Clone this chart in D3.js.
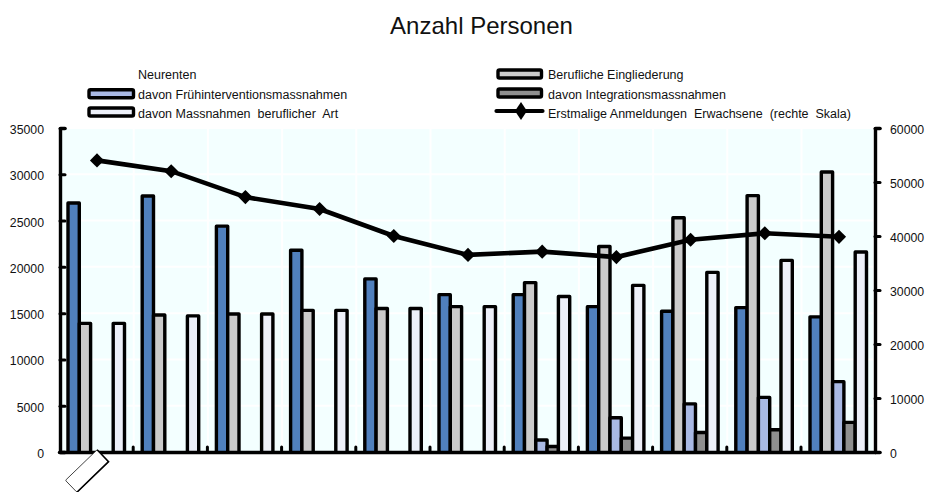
<!DOCTYPE html>
<html><head><meta charset="utf-8">
<script src="https://cdn.jsdelivr.net/npm/d3@7"></script>
<style>html,body{margin:0;padding:0;background:#fff}svg{display:block}text{font-family:"Liberation Sans",Arial,sans-serif;fill:#111;white-space:pre}</style>
</head><body><div id="c"></div>
<script>
const categories = ["2004","2005","2006","2007","2008","2009","2010","2011","2012","2013","2014"];
const neurenten = [26900,27650,24400,21800,18700,17000,17000,15700,15200,15600,14600];
const eingliederung = [13900,14800,14900,15300,15500,15700,18300,22200,25300,27700,30250];
const fruehintervention = [0,0,0,0,0,0,1300,3700,5200,5900,7600];
const integration = [0,0,0,0,0,0,600,1500,2100,2400,3200];
const beruflich = [13900,14700,14900,15300,15500,15700,16800,18000,19400,20700,21600];
const anmeldungen = [54000,52000,47200,45000,40000,36500,37100,36100,39300,40500,39850];
const leftTicks = [0,5000,10000,15000,20000,25000,30000,35000];
const rightTicks = [0,10000,20000,30000,40000,50000,60000];
const seriesNames = ["Neurenten","Berufliche Eingliederung","davon Frühinterventionsmassnahmen","davon Integrationsmassnahmen","davon Massnahmen  beruflicher  Art","Erstmalige Anmeldungen  Erwachsene  (rechte  Skala)"];
const colors = {neu:"#5080bd",ein:"#cbcbcb",fru:"#a9b9e4",int:"#8f8f8f",ber:"#edf0f9"};
const series = [[neurenten,colors.neu],[eingliederung,colors.ein],[fruehintervention,colors.fru],[integration,colors.int],[beruflich,colors.ber]];

const W=925,H=492,L=60,R=875,T=128,B=452;
const svg=d3.select("#c").append("svg").attr("width",W).attr("height",H).attr("viewBox",[0,0,W,H]);
const x=d3.scaleBand().domain(categories).range([59,875.2]);
const inner=d3.scaleBand().domain(d3.range(5)).range([9,65.5]);
const y=d3.scaleLinear().domain([0,35000]).range([B,T]);
const y2=d3.scaleLinear().domain([0,60000]).range([B,T]);
const cx=c=>x(c)+38;

svg.append("rect").attr("x",L).attr("y",T+1).attr("width",R-L-2).attr("height",B-T-1).attr("fill","#f3ffff");
svg.append("g").selectAll("line").data(leftTicks.slice(1,-1)).join("line")
  .attr("x1",L).attr("x2",R-2).attr("y1",d=>y(d)).attr("y2",d=>y(d)).attr("stroke","#fff").attr("stroke-width",2);
svg.append("g").selectAll("line").data(categories.slice(1)).join("line")
  .attr("x1",d=>x(d)+0.5).attr("x2",d=>x(d)+0.5).attr("y1",T+1).attr("y2",B).attr("stroke","#fff").attr("stroke-width",2);

series.forEach(([vals,col],i)=>{
  svg.append("g").selectAll("path").data(vals.map((v,j)=>[v,j]).filter(d=>d[0]>0)).join("path")
    .attr("d",([v,j])=>{const x0=x(categories[j])+inner(i),w=inner.bandwidth();
      return `M${x0},${B}V${y(v)}H${x0+w}V${B}`;})
    .attr("fill",col).attr("stroke","#000").attr("stroke-width",3.4).attr("stroke-linejoin","round");
});

const axL=svg.append("g").attr("transform",`translate(${L},0)`).call(d3.axisLeft(y).tickValues(leftTicks).tickSize(-5).tickPadding(16).tickFormat(d3.format("d")));
const axR=svg.append("g").attr("transform",`translate(${R},0)`).call(d3.axisRight(y2).tickValues(rightTicks).tickSize(5).tickPadding(10).tickFormat(d3.format("d")));
const axB=svg.append("g").attr("transform",`translate(0,${B})`).call(d3.axisBottom(x).tickValues(categories.slice(1)).tickSize(-5).tickSizeOuter(0).tickFormat(""));
axB.selectAll(".tick").attr("transform",d=>`translate(${x(d)},0)`);
[axL,axR,axB].forEach(a=>{a.select(".domain").attr("stroke","#000").attr("stroke-width",3.4).attr("stroke-linecap","round").attr("stroke-linejoin","round");
  a.selectAll("line").attr("stroke","#000").attr("stroke-width",3).attr("stroke-linecap","round");
  a.selectAll("text").attr("font-size",12.3).attr("fill","#111").attr("dy","5.5px");});

const line=d3.line().x((d,j)=>cx(categories[j])).y(d=>y2(d));
svg.append("path").datum(anmeldungen).attr("d",line).attr("fill","none").attr("stroke","#000").attr("stroke-width",4.6);
svg.append("g").selectAll("path").data(anmeldungen).join("path")
  .attr("transform",(d,j)=>`translate(${cx(categories[j])},${y2(d)}) rotate(45)`)
  .attr("d",d3.symbol(d3.symbolSquare,100)).attr("fill","#000");

svg.append("text").attr("x",481.5).attr("y",34).attr("text-anchor","middle").attr("font-size",24).text("Anzahl Personen");

const legend=[[138,79,74,89,44.5,0,null],[548,79,74,498,43.5,1,colors.ein],[138,98.5,93.7,89,44.5,2,colors.fru],[548,98.5,93,498,43.5,3,colors.int],[138,117.5,112,89,44.5,4,colors.ber],[548,117.5,111,498,43.5,5,"line"]];
const lg=svg.append("g");
legend.forEach(([tx,by,cy,sx,sw,n,c])=>{
  lg.append("text").attr("x",tx).attr("y",by).attr("font-size",12.5).text(seriesNames[n]);
  if(c==="line"){
    lg.append("line").attr("x1",sx-1.5).attr("x2",sx+sw+1).attr("y1",cy).attr("y2",cy).attr("stroke","#000").attr("stroke-width",4.2).attr("stroke-linecap","round");
    lg.append("path").attr("transform",`translate(${sx+23},${cy}) scale(1.15,1)`).attr("d",d3.symbol(d3.symbolDiamond,95)).attr("fill","#000");
  } else if(c){
    lg.append("rect").attr("x",sx).attr("y",cy-4).attr("width",sw).attr("height",8).attr("rx",1.5).attr("fill",c).attr("stroke","#000").attr("stroke-width",3.4);
  }
});

const note=svg.append("g").attr("transform","translate(87,471) rotate(-44)");
note.append("rect").attr("x",-22).attr("y",-8.25).attr("width",44).attr("height",16.5).attr("rx",1).attr("fill","#fff").attr("stroke","#222").attr("stroke-width",0.8);
note.append("path").attr("d","M-22,8.25H22V-8.25").attr("fill","none").attr("stroke","#000").attr("stroke-width",1.6);
</script></body></html>
